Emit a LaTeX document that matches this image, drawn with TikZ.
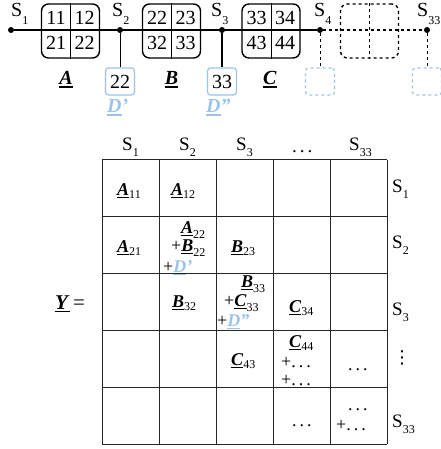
\documentclass[tikz,border=0pt]{standalone}
\usepackage{fontspec}
\setmainfont{Liberation Serif}
\newfontfamily\dvfont{DejaVu Sans}
\definecolor{lblue}{RGB}{157,195,230}
\newcommand{\bv}[1]{\setbox0\hbox{\textbf{\textit{#1}}}\rlap{\rule[-2.8pt]{\wd0}{1.3pt}}\box0}
\newcommand{\csub}[1]{\raisebox{-3pt}{\fontsize{12}{12}\selectfont #1}}
\newcommand{\lsub}[1]{\raisebox{-5pt}{\fontsize{12}{12}\selectfont #1}}
\newcommand{\tsub}[1]{\raisebox{-8pt}{\fontsize{12}{12}\selectfont #1}}
\newcommand{\msub}[1]{\raisebox{-6pt}{\fontsize{12}{12}\selectfont #1}}
\newcommand{\mydots}{.\kern3pt.\kern3pt.}
\tikzset{
  dot/.style={circle,fill=black,inner sep=0pt,minimum size=6pt},
  blk/.style={draw,line width=1.4pt,rounded corners=7pt,minimum width=58pt,minimum height=54pt,inner sep=0pt},
  dblk/.style={blk,dashed},
  dbox/.style={draw=lblue,line width=1.2pt,rounded corners=3pt,minimum width=29pt,minimum height=27pt,inner sep=0pt,font=\fontsize{20}{20}\selectfont},
  ddbox/.style={dbox,dashed},
  txt/.style={inner sep=0pt,anchor=base west},
  num/.style={inner sep=0pt,anchor=base,font=\fontsize{20}{20}\selectfont},
  big/.style={txt,font=\fontsize{20}{20}\selectfont},
  hdr/.style={txt,font=\fontsize{19}{19}\selectfont},
  cell/.style={txt,font=\fontsize{18}{18}\selectfont},
  mainline/.style={line width=1.2pt},
  gridline/.style={line width=1pt,black!85}
}
\begin{document}
\begin{tikzpicture}[x=1pt,y=-1pt]
\useasboundingbox (0,0) rectangle (440,449);
% top chain
\node[dot] (d1) at (11,30) {};
\node[dot] (d2) at (120,30) {};
\node[dot] (d3) at (222,30) {};
\node[dot] (d4) at (320,30) {};
\node[dot] (d33) at (427,30) {};
\draw[mainline] (d1) -- (d4);
\draw[mainline,dashed] (d4) -- (d33);
\node[blk] (bA) at (70.5,31) {};
\node[blk] (bB) at (171.5,31) {};
\node[blk] (bC) at (271,31) {};
\node[dblk] (bX) at (369.5,31) {};
\draw[line width=1pt] (bA.north) -- (bA.south);
\draw[line width=1pt] (bB.north) -- (bB.south);
\draw[line width=1pt] (bC.north) -- (bC.south);
\draw[line width=1pt,dashed] (bX.north) -- (bX.south);
% block numbers
\node[num] (a11) at (56,25) {11};
\node[num] (a12) at (84.5,25) {12};
\node[num] (a21) at (56,50) {21};
\node[num] (a22) at (84.5,50) {22};
\node[num] (b22) at (157,25) {22};
\node[num] (b23) at (185.5,25) {23};
\node[num] (b32) at (157,50) {32};
\node[num] (b33) at (185.5,50) {33};
\node[num] (c33) at (256.5,25) {33};
\node[num] (c34) at (285,25) {34};
\node[num] (c43) at (256.5,50) {43};
\node[num] (c44) at (285,50) {44};
% S labels
\node[big] (s1) at (11,17) {S\tsub{1}};
\node[big] (s2) at (112,17) {S\tsub{2}};
\node[big] (s3) at (211,17) {S\tsub{3}};
\node[big] (s4) at (314,17) {S\tsub{4}};
\node[big] (s33) at (417,17) {S\tsub{33}};
% block labels
\node[inner sep=0pt,anchor=base,font=\fontsize{20}{20}\selectfont] (lA) at (66,85) {\bv{A}};
\node[inner sep=0pt,anchor=base,font=\fontsize{20}{20}\selectfont] (lB) at (171.5,85) {\bv{B}};
\node[inner sep=0pt,anchor=base,font=\fontsize{20}{20}\selectfont] (lC) at (270,85) {\bv{C}};
% D boxes
\node[dbox] (D1) at (120,81.5) {22};
\node[dbox] (D2) at (222,81.5) {33};
\node[ddbox] (D3) at (320,81.5) {};
\node[ddbox] (D4) at (427,81.5) {};
\draw[line width=1pt] (d2) -- (D1);
\draw[line width=1.3pt] (d3) -- (D2);
\draw[line width=1pt,dashed] (d4) -- (D3);
\draw[line width=1pt,dashed] (d33) -- (D4);
\node[txt,text=lblue,font=\fontsize{20}{20}\selectfont] (lD1) at (107,113) {\bv{D}\textbf{\textit{'}}};
\node[txt,text=lblue,font=\fontsize{20}{20}\selectfont] (lD2) at (206,113) {\bv{D}\textbf{\textit{''}}};
% matrix grid
\foreach \i in {0,...,5} {
  \draw[gridline] (102+57*\i,160) -- (102+57*\i,444);
  \draw[gridline] (102,160+56.8*\i) -- (387,160+56.8*\i);
}
% column headers
\node[hdr] (h1) at (122,150) {S\msub{1}};
\node[hdr] (h2) at (179,150) {S\msub{2}};
\node[hdr] (h3) at (236,150) {S\msub{3}};
\node[hdr] (h4) at (292,153) {\mydots};
\node[hdr] (h5) at (349,150) {S\msub{33}};
% row labels
\node[hdr] (r1) at (392,192) {S\msub{1}};
\node[hdr] (r2) at (392,248) {S\msub{2}};
\node[hdr] (r3) at (392,315) {S\msub{3}};
\node[inner sep=0pt,font=\dvfont\fontsize{18}{18}\selectfont] (r4) at (402,358) {⋮};
\node[hdr] (r5) at (392,427) {S\msub{33}};
% Y =
\node[txt,font=\fontsize{21}{21}\selectfont] (Y) at (55,309) {\bv{Y}\,=};
% cells
\node[cell] (e11) at (117,195) {\bv{A}\csub{11}};
\node[cell] (e12) at (171,195) {\bv{A}\csub{12}};
\node[cell] (e21) at (117,252) {\bv{A}\csub{21}};
\node[cell] (e22a) at (181,233) {\bv{A}\lsub{22}};
\node[cell] (e22b) at (171,251) {+\bv{B}\lsub{22}};
\node[cell] (e22c) at (163,272) {+\textcolor{lblue}{\bv{D}\textbf{\textit{'}}}};
\node[cell] (e23) at (231,252) {\bv{B}\csub{23}};
\node[cell] (e32) at (172,307) {\bv{B}\csub{32}};
\node[cell] (e33a) at (241,287) {\bv{B}\lsub{33}};
\node[cell] (e33b) at (224,306) {+\bv{C}\lsub{33}};
\node[cell] (e33c) at (217,326) {+\textcolor{lblue}{\bv{D}\textbf{\textit{''}}}};
\node[cell] (e34) at (289,312) {\bv{C}\csub{34}};
\node[cell] (e43) at (231,365) {\bv{C}\csub{43}};
\node[cell] (e44a) at (289,347) {\bv{C}\csub{44}};
\node[cell] (e44b) at (281,367) {+\mydots};
\node[cell] (e44c) at (281,385) {+\mydots};
\node[cell] (e45) at (348,370) {\mydots};
\node[cell] (e54) at (292,426) {\mydots};
\node[cell] (e55a) at (348,410) {\mydots};
\node[cell] (e55b) at (336,430) {+\mydots};
\end{tikzpicture}
\end{document}
